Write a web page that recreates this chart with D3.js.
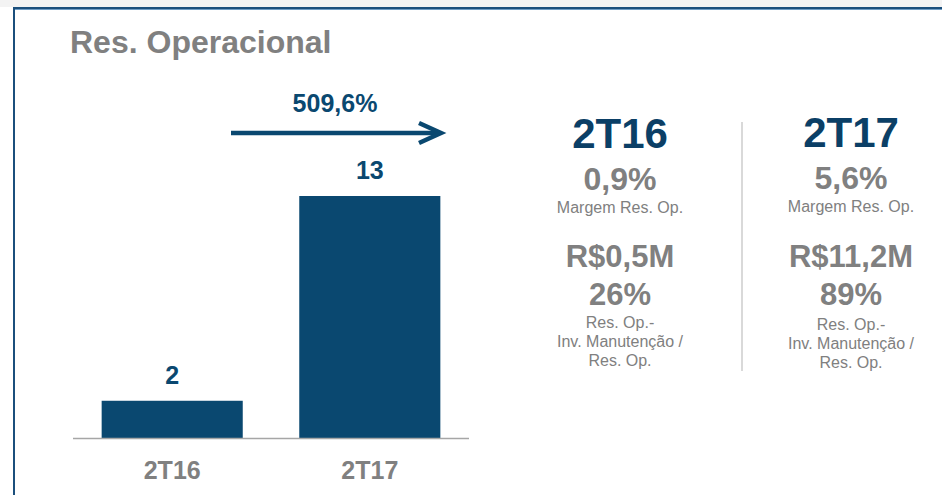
<!DOCTYPE html>
<html><head><meta charset="utf-8">
<script src="https://cdn.jsdelivr.net/npm/d3@7"></script>
<style>
html,body{margin:0;padding:0;background:#fff;}
svg{display:block;font-family:"Liberation Sans",Arial,sans-serif;}
</style></head>
<body><svg id="c" width="942" height="495"></svg>
<script>
const title = "Res. Operacional";
const categories = ["2T16", "2T17"];
const values = [2, 13];
const valueLabels = ["2", "13"];
const growthLabel = "509,6%";
const panelPeriods = ["2T16", "2T17"];
const margins = ["0,9%", "5,6%"];
const marginLabel = "Margem Res. Op.";
const amounts = ["R$0,5M", "R$11,2M"];
const ratios = ["26%", "89%"];
const ratioLabelLines = ["Res. Op.-", "Inv. Manutenção /", "Res. Op."];

const BLUE = "#0a4870", GRAY = "#808080";
const svg = d3.select("#c");

// frame
svg.append("rect").attr("x",0).attr("y",0).attr("width",942).attr("height",7).attr("fill","#f3f3f3");
svg.append("rect").attr("x",13).attr("y",7).attr("width",929).attr("height",2).attr("fill","#1b4f7c");
svg.append("rect").attr("x",13).attr("y",9).attr("width",929).attr("height",1).attr("fill","#6f9cc4");
svg.append("rect").attr("x",13).attr("y",7).attr("width",2).attr("height",488).attr("fill","#1b4f7c");

svg.append("text").attr("x",70).attr("y",53).attr("fill",GRAY)
  .attr("font-size",32).attr("font-weight","bold").text(title);

// chart
const x = d3.scaleBand().domain(categories).range([73,469]).paddingInner(0.286).paddingOuter(0.145);
const y = d3.scaleLinear().domain([0,13]).range([438,196]);

svg.selectAll("rect.bar").data(values).join("rect").attr("class","bar")
  .attr("x",(d,i)=>x(categories[i])).attr("width",x.bandwidth())
  .attr("y",d=>y(d)).attr("height",d=>y(0)-y(d)).attr("fill",BLUE);

const ax = svg.append("g").attr("transform",`translate(0,${y(0)})`)
  .call(d3.axisBottom(x).tickSize(0).tickPadding(0));
ax.select(".domain").attr("stroke","#a6a6a6").attr("stroke-width",1.5).attr("d","M73,0.5H469");
ax.selectAll(".tick text").attr("dy",null).attr("y",41).attr("fill",GRAY)
  .attr("font-size",25).attr("font-weight","bold").attr("font-family","Liberation Sans, Arial, sans-serif");

svg.selectAll("text.val").data(values).join("text").attr("class","val")
  .attr("x",(d,i)=>x(categories[i])+x.bandwidth()/2).attr("y",d=>y(d)-17)
  .attr("text-anchor","middle").attr("fill",BLUE).attr("font-size",25).attr("font-weight","bold")
  .text((d,i)=>valueLabels[i]);

// arrow
const ay = 133;
svg.append("line").attr("x1",231).attr("x2",439).attr("y1",ay).attr("y2",ay)
  .attr("stroke",BLUE).attr("stroke-width",4.5);
svg.append("path").attr("d",`M419,${ay-10}L441,${ay}L419,${ay+10}`)
  .attr("fill","none").attr("stroke",BLUE).attr("stroke-width",4.5).attr("stroke-linejoin","miter");
svg.append("text").attr("x",335).attr("y",112).attr("text-anchor","middle").attr("fill",BLUE)
  .attr("font-size",25).attr("font-weight","bold").text(growthLabel);

// side panel
svg.append("line").attr("x1",742).attr("x2",742).attr("y1",122).attr("y2",371)
  .attr("stroke","#d9d9d9").attr("stroke-width",2);

const cols = [620, 851];
const dy = [0, -1];
panelPeriods.forEach((p,i)=>{
  const g = svg.append("g").attr("text-anchor","middle");
  const cx = cols[i], o = dy[i];
  g.append("text").attr("x",cx).attr("y",148+o).attr("fill","#0b3f66").attr("font-size",42).attr("font-weight","bold").text(p);
  g.append("text").attr("x",cx).attr("y",190+o).attr("fill",GRAY).attr("font-size",32).attr("font-weight","bold").text(margins[i]);
  g.append("text").attr("x",cx).attr("y",213+o).attr("fill",GRAY).attr("font-size",16).text(marginLabel);
  g.append("text").attr("x",cx).attr("y",267).attr("fill",GRAY).attr("font-size",31).attr("font-weight","bold").text(amounts[i]);
  g.append("text").attr("x",cx).attr("y",305).attr("fill",GRAY).attr("font-size",31).attr("font-weight","bold").text(ratios[i]);
  ratioLabelLines.forEach((l,j)=>{
    g.append("text").attr("x",cx).attr("y",328+2*i+j*19).attr("fill",GRAY).attr("font-size",16).text(l);
  });
});
</script></body></html>
